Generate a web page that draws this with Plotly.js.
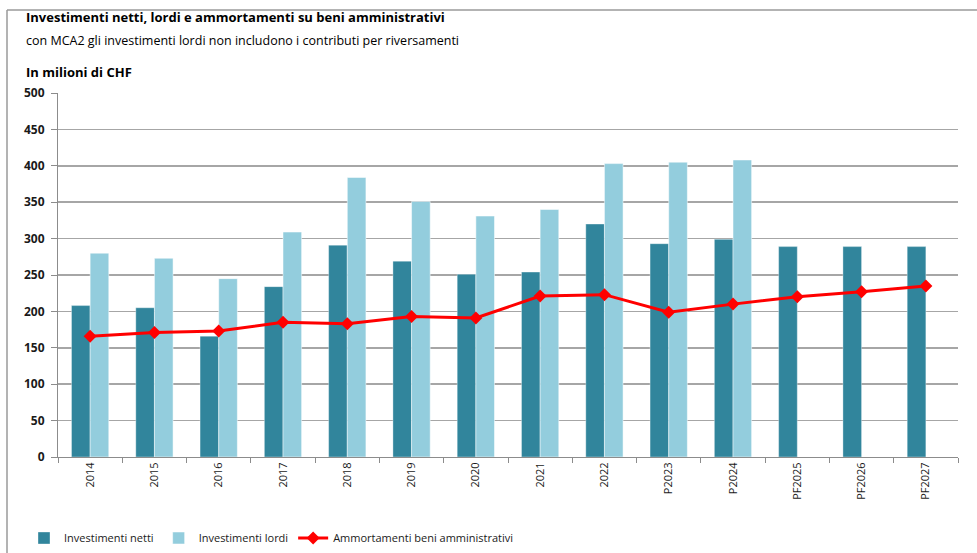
<!DOCTYPE html>
<html>
<head>
<meta charset="utf-8">
<script src="https://cdn.plot.ly/plotly-3.0.1.min.js"></script>
<style>
  html, body { margin: 0; padding: 0; background: #fff; }
  #chart { width: 977px; height: 553px; }
</style>
</head>
<body>
<div id="chart"></div>
<script>
const categories = ["2014","2015","2016","2017","2018","2019","2020","2021","2022","P2023","P2024","PF2025","PF2026","PF2027"];
const investimentiNetti = [208, 205, 166, 234, 291, 269, 251, 254, 320, 293, 299, 289, 289, 289];
const investimentiLordi = [280, 273, 245, 309, 384, 351, 331, 340, 403, 405, 408, null, null, null];
const ammortamenti = [166, 171, 173, 185, 183, 193, 191, 221, 223, 199, 210, 220, 227, 235];
const yTicks = [0, 50, 100, 150, 200, 250, 300, 350, 400, 450, 500];

const W = 977, H = 553;
const M = {l: 58, r: 19, t: 93, b: 96, autoexpand: false};
const pw = W - M.l - M.r, ph = H - M.t - M.b;
const px = x => (x - M.l) / pw;
const py = y => (H - M.b - y) / ph;

const font = "'Open Sans', Lato, sans-serif";

const traces = [
  {
    type: "bar", name: "Investimenti netti", x: categories, y: investimentiNetti,
    marker: {color: "#31859C", line: {color: "rgba(255,255,255,0.35)", width: 1}},
    hoverinfo: "x+y+name"
  },
  {
    type: "bar", name: "Investimenti lordi", x: categories, y: investimentiLordi,
    marker: {color: "#93CDDD", line: {color: "rgba(255,255,255,0.5)", width: 1}},
    hoverinfo: "x+y+name"
  },
  {
    type: "scatter", mode: "lines+markers", name: "Ammortamenti beni amministrativi",
    x: categories, y: ammortamenti,
    line: {color: "#FF0000", width: 3},
    marker: {symbol: "diamond", size: 10, color: "#FF0000"}
  }
];

const layout = {
  width: W, height: H,
  margin: M,
  paper_bgcolor: "#fff", plot_bgcolor: "#fff",
  font: {family: font, size: 12, color: "#1a1a1a"},
  barmode: "group", bargap: 0.42, bargroupgap: 0,
  showlegend: true,
  legend: {
    orientation: "h", x: px(24), xanchor: "left", y: py(538), yanchor: "middle",
    font: {family: font, size: 11, color: "#1a1a1a"},
    itemwidth: 30, tracegroupgap: 0, traceorder: "normal", bgcolor: "rgba(0,0,0,0)"
  },
  xaxis: {
    type: "category", range: [-0.5, categories.length - 0.5], autorange: false,
    tickangle: -90,
    showline: true, linecolor: "#8c8c8c", linewidth: 1,
    ticks: "outside", tickson: "boundaries", ticklen: 5, tickcolor: "#8c8c8c",
    tickfont: {family: font, size: 11, color: "#1a1a1a"},
    showgrid: false, fixedrange: true, automargin: false
  },
  yaxis: {
    range: [0, 500], tickvals: yTicks, ticktext: yTicks.map(String),
    showline: true, linecolor: "#8c8c8c", linewidth: 1,
    ticks: "outside", ticklen: 6, tickcolor: "#8c8c8c",
    showgrid: true, gridcolor: "#a6a6a6", gridwidth: 1.5,
    zeroline: false,
    tickfont: {family: font, size: 12, color: "#1a1a1a", weight: "bold"},
    ticklabelstandoff: 4, fixedrange: true, automargin: false
  },
  annotations: [
    {xref: "paper", yref: "paper", x: px(24), y: py(17), xanchor: "left", yanchor: "middle",
     text: "<b>Investimenti netti, lordi e ammortamenti su beni amministrativi</b>",
     showarrow: false, font: {family: font, size: 13, color: "#000"}},
    {xref: "paper", yref: "paper", x: px(24), y: py(40), xanchor: "left", yanchor: "middle",
     text: "con MCA2 gli investimenti lordi non includono i contributi per riversamenti",
     showarrow: false, font: {family: font, size: 12.5, color: "#000"}},
    {xref: "paper", yref: "paper", x: px(24), y: py(72), xanchor: "left", yanchor: "middle",
     text: "<b>In milioni di CHF</b>",
     showarrow: false, font: {family: font, size: 13, color: "#000"}}
  ],
  shapes: [
    {type: "line", xref: "paper", yref: "paper", x0: px(7), x1: px(7), y0: py(10), y1: py(560),
     line: {color: "#9a9a9a", width: 1.5}},
    {type: "line", xref: "paper", yref: "paper", x0: px(7), x1: px(980), y0: py(10), y1: py(10),
     line: {color: "#9a9a9a", width: 1.5}}
  ]
};

Plotly.newPlot("chart", traces, layout, {displayModeBar: false, staticPlot: true});
</script>
</body>
</html>
